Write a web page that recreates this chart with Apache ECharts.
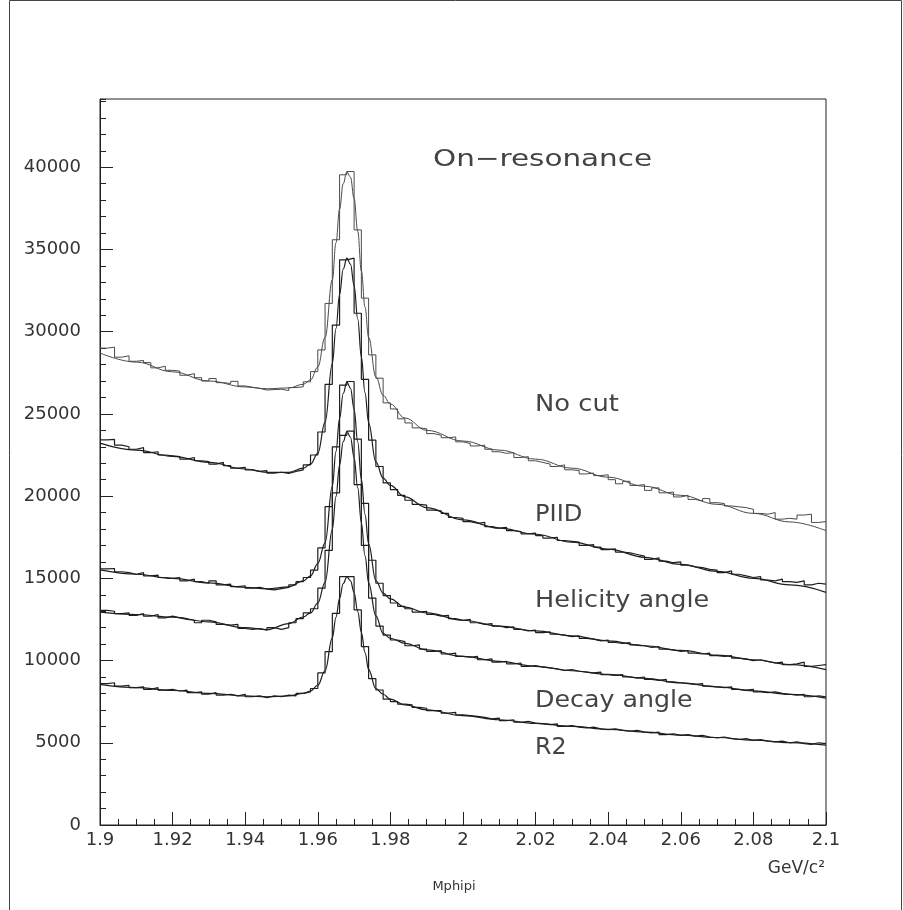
<!DOCTYPE html>
<html>
<head>
<meta charset="utf-8">
<script src="https://cdn.jsdelivr.net/npm/echarts@6/dist/echarts.min.js"></script>
<style>
  html, body { margin: 0; padding: 0; background: #ffffff; }
  #chart { width: 903px; height: 910px; }
</style>
</head>
<body>
<div id="chart"></div>
<script>
// Mphipi spectra, 100 bins of 2 MeV from 1.9 to 2.1 GeV/c^2, for successive cuts
const massMin = 1.9;
const massMax = 2.1;
const binWidth = 0.002;
const yMax = 44150;

const histNoCut = [
  29000, 29060, 28450, 28530, 28200, 28250, 28120, 27800, 27900, 27650,
  27600, 27350, 27450, 27200, 27000, 27150, 26900, 26850, 26980, 26700,
  26620, 26550, 26450, 26480, 26500, 26420, 26600, 26650, 26950, 27570,
  28890, 31720, 35590, 39540, 39740, 36190, 32040, 28590, 27170, 25670,
  25300, 24700, 24450, 24150, 24100, 23800, 23700, 23550, 23600, 23300,
  23200, 23050, 23100, 22850, 22700, 22600, 22650, 22350, 22400, 22150,
  22050, 21950, 21800, 21900, 21600, 21550, 21350, 21400, 21250, 21300,
  21000, 20750, 20900, 20650, 20700, 20350, 20500, 20200, 20250, 19950,
  20050, 19800, 19700, 19850, 19600, 19550, 19400, 19350, 19300, 19200,
  18950, 18900, 19000, 18600, 18650, 18600, 18850, 18900, 18400, 18450
];
const histPIID = [
  23420, 23450, 23100, 23000, 22850, 22950, 22650, 22700, 22500, 22450,
  22400, 22250, 22350, 22150, 22100, 21950, 22050, 21850, 21700, 21750,
  21600, 21500, 21550, 21400, 21450, 21380, 21500, 21600, 21900, 22500,
  23900, 26800, 30400, 34370, 34470, 31120, 27100, 23400, 21800, 20800,
  20400, 20050, 19750, 19500, 19450, 19150, 19100, 18950, 18700, 18650,
  18450, 18350, 18400, 18150, 18050, 18100, 17900, 17850, 17700, 17750,
  17600, 17450, 17500, 17300, 17250, 17200, 17000, 17050, 16900, 16750,
  16800, 16600, 16550, 16450, 16350, 16150, 16250, 16050, 15950, 16000,
  15800, 15700, 15650, 15550, 15500, 15350, 15450, 15250, 15150, 15050,
  15100, 14900, 14850, 14950, 14800, 14750, 14850, 14600, 14700, 14650
];
const histHelicity = [
  15570, 15600, 15400, 15350, 15250, 15350, 15150, 15200, 15050, 15000,
  15050, 14850, 14950, 14800, 14700, 14850, 14600, 14650, 14500, 14550,
  14400, 14450, 14350, 14300, 14380, 14450, 14600, 14800, 15050, 15500,
  16850, 19360, 23000, 26750, 26970, 23470, 19560, 16100, 14700, 13950,
  13500, 13300, 13150, 12950, 13000, 12800, 12700, 12750, 12550, 12450,
  12500, 12300, 12200, 12250, 12100, 12000, 12050, 11900, 11800, 11850,
  11700, 11750, 11600, 11550, 11450, 11500, 11350, 11300, 11200, 11250,
  11100, 11050, 11100, 10950, 10900, 10800, 10850, 10700, 10650, 10550,
  10600, 10450, 10400, 10450, 10300, 10250, 10300, 10150, 10100, 10000,
  10050, 9950, 9850, 9900, 9750, 9800, 9900, 9650, 9700, 9750
];
const histDecay = [
  13050, 13000, 12850, 12900, 12750, 12850, 12700, 12800, 12600, 12700,
  12600, 12500, 12450, 12300, 12450, 12350, 12200, 12150, 12200, 11950,
  11900, 11950, 11850, 12000, 11900, 12000, 12300, 12550, 12900, 13150,
  14400, 16700, 20200, 23700, 23950, 20700, 17000, 13800, 12100, 11550,
  11250, 11150, 10900, 10950, 10700, 10550, 10600, 10400, 10450, 10250,
  10200, 10250, 10050, 10100, 9900, 9950, 9800, 9850, 9650, 9700,
  9600, 9550, 9500, 9400, 9450, 9350, 9300, 9250, 9300, 9150,
  9100, 9150, 9000, 8950, 9000, 8850, 8800, 8850, 8700, 8650,
  8600, 8550, 8600, 8450, 8400, 8350, 8400, 8250, 8200, 8250,
  8100, 8050, 8100, 8000, 7950, 7900, 7950, 7800, 7850, 7800
];
const histR2 = [
  8600, 8650, 8450, 8500, 8350, 8400, 8250, 8350, 8200, 8250,
  8150, 8200, 8050, 8100, 7950, 8050, 7900, 7950, 7850, 7950,
  7800, 7850, 7750, 7850, 7800, 7900, 7850, 8000, 8100, 8300,
  9250, 10540, 12870, 15100, 15100, 13080, 10850, 8900, 8210, 7650,
  7500, 7350, 7300, 7150, 7100, 6950, 6950, 6800, 6850, 6700,
  6650, 6600, 6550, 6450, 6500, 6350, 6400, 6250, 6300, 6200,
  6150, 6100, 6150, 6000, 6050, 5950, 5900, 5950, 5850, 5800,
  5850, 5750, 5700, 5750, 5650, 5600, 5650, 5500, 5550, 5450,
  5500, 5400, 5450, 5350, 5300, 5350, 5250, 5200, 5250, 5150,
  5200, 5100, 5050, 5100, 5000, 5050, 4950, 4900, 5000, 4950
];

// fitted curves (peak + background), sampled along the mass axis
const fitMass = [
  1.900, 1.910, 1.920, 1.930, 1.940, 1.946, 1.952, 1.956, 1.958, 1.960,
  1.962, 1.964, 1.965, 1.966, 1.967, 1.968, 1.969, 1.970, 1.971, 1.972,
  1.973, 1.974, 1.976, 1.978, 1.980, 1.984, 1.990, 2.000, 2.010, 2.020,
  2.030, 2.040, 2.050, 2.060, 2.070, 2.080, 2.090, 2.100
];
const fitNoCut = [
  28700, 28150, 27560, 27000, 26640, 26530, 26580, 26800, 27070, 27850,
  29650, 33150, 35400, 37450, 39000, 39720, 39400, 38100, 36100, 33700,
  31500, 29650, 27250, 26130, 25600, 24750, 24000, 23350, 22800, 22250,
  21700, 21150, 20600, 20050, 19500, 18950, 18430, 17900
];
const fitPIID = [
  23220, 22800, 22420, 22050, 21650, 21450, 21450, 21700, 21950, 22600,
  24500, 28060, 30190, 32260, 33810, 34475, 34110, 32800, 30770, 28470,
  26290, 24460, 22080, 21100, 20650, 19950, 19300, 18550, 18050, 17680,
  17200, 16780, 16280, 15850, 15420, 15000, 14600, 14150
];
const fitHelicity = [
  15510, 15250, 15000, 14720, 14450, 14360, 14480, 14850, 15150, 15900,
  17160, 20590, 22710, 24730, 26240, 26930, 26570, 25280, 23290, 21030,
  18890, 17100, 14860, 14100, 13750, 13250, 12900, 12450, 12100, 11800,
  11500, 11200, 10900, 10620, 10330, 10050, 9750, 9450
];
const fitDecay = [
  12950, 12800, 12640, 12350, 12000, 11880, 12250, 12650, 12900, 13500,
  14750, 17980, 19970, 21880, 23300, 23930, 23580, 22350, 20500, 18380,
  16380, 14720, 12720, 11650, 11350, 11050, 10650, 10250, 9950, 9650,
  9380, 9160, 8920, 8640, 8400, 8160, 7940, 7720
];
const fitR2 = [
  8550, 8350, 8180, 8000, 7850, 7800, 7850, 8000, 8150, 8500,
  9380, 11380, 12630, 13780, 14680, 15090, 14850, 14140, 12980, 11720,
  10490, 9450, 8300, 7950, 7650, 7300, 7000, 6650, 6400, 6180,
  6000, 5820, 5650, 5470, 5320, 5160, 5010, 4860
];

const yMajorTicks = 5000;
const yMinorTicks = 1000;

// bin i covers [massMin + i*binWidth, massMin + (i+1)*binWidth]
function histPoints(values) {
  const pts = values.map((v, i) => [massMin + i * binWidth, v]);
  pts.push([massMin + values.length * binWidth, values[values.length - 1]]);
  return pts;
}
function fitPoints(values) {
  return fitMass.map((m, i) => [m, values[i]]);
}

const curves = [
  { hist: histNoCut, fit: fitNoCut, color: '#4a4a4a', width: 1 },
  { hist: histPIID, fit: fitPIID, color: '#1e1e1e', width: 1.2 },
  { hist: histHelicity, fit: fitHelicity, color: '#1e1e1e', width: 1.2 },
  { hist: histDecay, fit: fitDecay, color: '#1e1e1e', width: 1.2 },
  { hist: histR2, fit: fitR2, color: '#1e1e1e', width: 1.2 }
];

const series = [];
curves.forEach(c => {
  series.push({
    type: 'line', step: 'end', data: histPoints(c.hist), symbol: 'none',
    lineStyle: { color: c.color, width: c.width }, silent: true, z: 3
  });
  series.push({
    type: 'line', smooth: 0.4, smoothMonotone: 'x', data: fitPoints(c.fit), symbol: 'none',
    lineStyle: { color: c.color, width: c.width }, silent: true, z: 4
  });
});

const axisColor = '#222222';
const labelFont = { fontFamily: 'DejaVu Sans', fontSize: 18, color: '#333333' };

const textFont = '23px "DejaVu Sans"';
function label(text, x, y, sx) {
  return {
    type: 'text', x: x, y: y, scaleX: sx, silent: true,
    style: { text: text, font: textFont, fill: '#444444', textVerticalAlign: 'middle' }
  };
}

const chart = echarts.init(document.getElementById('chart'), null, { renderer: 'canvas' });
chart.setOption({
  animation: false,
  backgroundColor: '#ffffff',
  grid: {
    left: 100, right: 77, top: 99, bottom: 85,
    show: true, borderColor: axisColor, borderWidth: 1,
    containLabel: false, outerBoundsMode: 'none'
  },
  xAxis: {
    type: 'value', min: massMin, max: massMax, interval: 0.02,
    axisLine: { show: true, onZero: false, lineStyle: { color: axisColor, width: 1 } },
    axisTick: { show: true, inside: true, length: 13, lineStyle: { color: axisColor } },
    minorTick: { show: true, splitNumber: 4, length: 6, lineStyle: { color: axisColor } },
    splitLine: { show: false },
    minorSplitLine: { show: false },
    axisLabel: Object.assign({ margin: 6 }, labelFont)
  },
  yAxis: [
    {
      type: 'value', min: 0, max: yMax, interval: yMajorTicks,
      axisLine: { show: true, onZero: false, lineStyle: { color: axisColor, width: 1 } },
      axisTick: { show: true, inside: true, length: 13, lineStyle: { color: axisColor } },
      splitLine: { show: false },
      axisLabel: Object.assign({ margin: 19, showMaxLabel: false, formatter: v => String(v) }, labelFont)
    },
    {
      type: 'value', min: 0, max: yMax, interval: yMinorTicks, position: 'left',
      axisLine: { show: false },
      axisTick: { show: true, inside: true, length: 6, lineStyle: { color: axisColor } },
      splitLine: { show: false },
      axisLabel: { show: false }
    }
  ],
  series: series,
  graphic: [
    { type: 'rect', silent: true, shape: { x: 9.5, y: 0.5, width: 892, height: 930 },
      style: { fill: 'none', stroke: '#444444', lineWidth: 1 } },
    label('On\u2212resonance', 433, 160, 1.28),
    label('No cut', 535, 405, 1.12),
    label('PIID', 535, 515, 1.05),
    label('Helicity angle', 535, 601, 1.11),
    label('Decay angle', 535, 701, 1.1),
    label('R2', 535, 748, 1.03),
    { type: 'text', x: 825, y: 869, silent: true,
      style: { text: 'GeV/c\u00b2', font: '17px "DejaVu Sans"', fill: '#333333',
               textAlign: 'right', textVerticalAlign: 'middle' } },
    { type: 'text', x: 454, y: 887, silent: true,
      style: { text: 'Mphipi', font: '13px "DejaVu Sans"', fill: '#333333',
               textAlign: 'center', textVerticalAlign: 'middle' } }
  ]
});
</script>
</body>
</html>
